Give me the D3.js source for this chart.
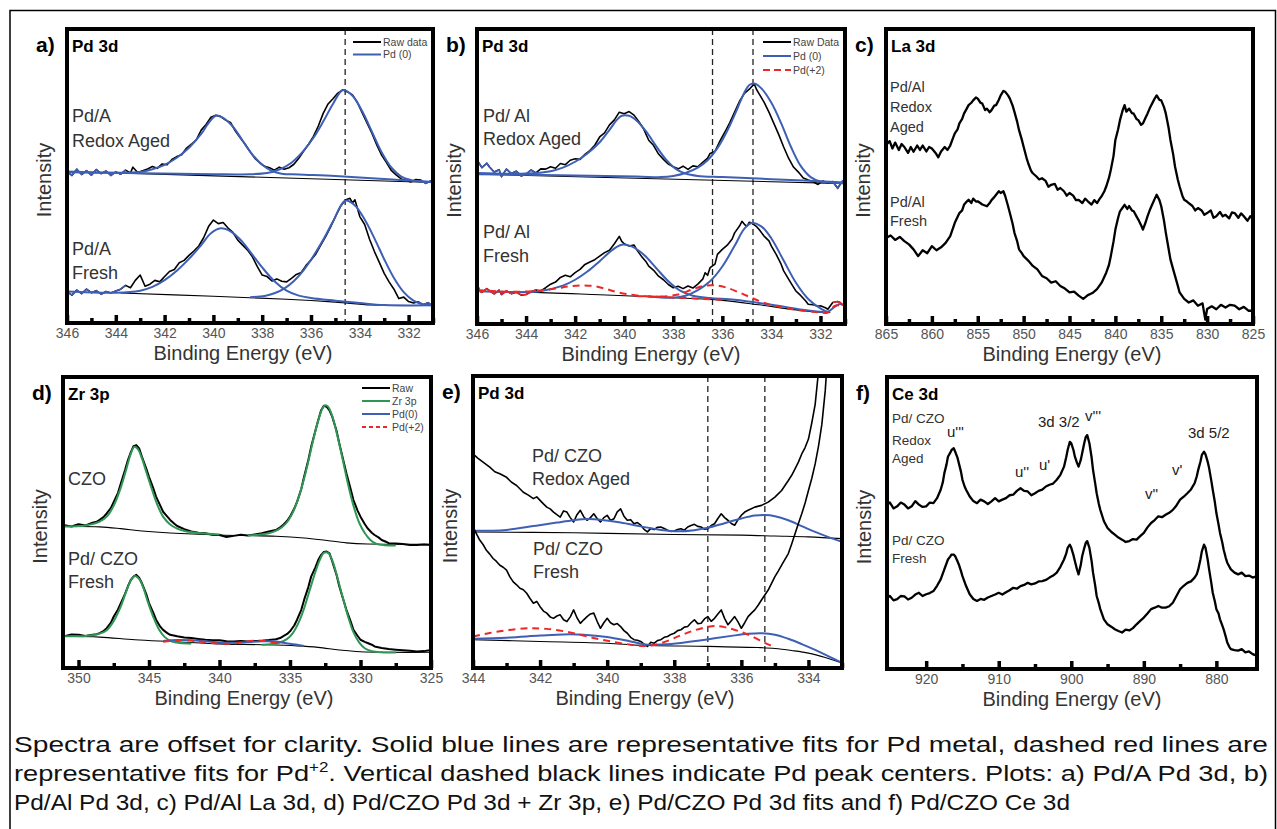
<!DOCTYPE html>
<html>
<head>
<meta charset="utf-8">
<script src="https://cdn.jsdelivr.net/npm/d3@7"></script>
<style>
body { margin: 0; background: #fff; }
svg text { font-family: Arial, "Liberation Sans", sans-serif; }
</style>
</head>
<body>
<svg id="fig" width="1277" height="829"></svg>
<script>
"use strict";

// ---- tick values ----
const aTicks = [346, 344, 342, 340, 338, 336, 334, 332];
const aMinor = [345, 343, 341, 339, 337, 335, 333, 331];
const cTicks = [865, 860, 855, 850, 845, 840, 835, 830, 825];
const cMinor = [862.5, 857.5, 852.5, 847.5, 842.5, 837.5, 832.5, 827.5];
const dTicks = [350, 345, 340, 335, 330, 325];
const dMinor = [347.5, 342.5, 337.5, 332.5, 327.5];
const eTicks = [344, 342, 340, 338, 336, 334];
const eMinor = [343, 341, 339, 337, 335, 333];
const fTicks = [920, 910, 900, 890, 880];
const fMinor = [915, 905, 895, 885];

// ---- peak centre markers (eV) ----
const aCentres = [334.6];
const bCentres = [336.4, 334.75];
const eCentres = [337.0, 335.3];

// ---- panel a : Pd/A Pd 3d  [binding energy, intensity] ----
const aAgedRaw = [[346,51.5],[345.8,50.2],[345.6,52.3],[345.4,50.5],[345.2,51.8],[345,50.3],[344.8,52.2],[344.6,50.8],[344.4,51.7],[344.2,50.2],[344,51.4],[343.8,50.6],[343.6,52],[343.4,51],[343.3,53],[343.1,51.2],[342.9,51.8],[342.7,52.4],[342.5,53.2],[342.3,52.6],[342.1,54.1],[341.9,53.8],[341.7,55.6],[341.5,56.6],[341.3,57.2],[341.1,59.5],[340.9,60.8],[340.7,62.3],[340.5,65.6],[340.3,67.5],[340.1,70],[339.9,70.7],[339.7,70.2],[339.5,69],[339.3,68.2],[339.1,65.3],[338.9,63],[338.7,60.8],[338.5,58.3],[338.3,56],[338.1,54.5],[337.9,53.3],[337.7,52.8],[337.5,52],[337.3,53],[337.1,52.3],[336.9,52.8],[336.7,54],[336.5,56],[336.3,58.5],[336.1,60.8],[335.9,63.5],[335.7,67],[335.5,71.3],[335.3,74.5],[335.1,76.3],[334.9,78.2],[334.7,79.3],[334.5,78.6],[334.3,77.6],[334.1,75],[333.9,71.5],[333.7,68],[333.5,64.5],[333.3,60.5],[333.1,57],[332.9,54.5],[332.7,51.8],[332.5,50.3],[332.3,49],[332.1,48.5],[331.9,48],[331.7,48.8],[331.5,48.6],[331.3,47.5],[331.1,48.3],[331,47]];
const aAgedFit1 = [[346,51.5],[344,51.1],[343,51.4],[342.5,52.3],[342,53.8],[341.5,56.2],[341,59.6],[340.5,64.3],[340.2,68],[339.9,70.5],[339.6,69.8],[339.2,66.8],[338.8,62],[338.4,57.3],[338,53.8],[337.6,51.7],[337.2,50.8],[336.5,50.5],[335,50],[333,49],[331,48]];
const aAgedFit2 = [[346,51.3],[340,50.6],[338.5,50.6],[337.8,51],[337.3,52.2],[336.8,54.5],[336.3,58.6],[335.9,63],[335.5,68.5],[335.1,74.5],[334.7,79.2],[334.3,77.3],[333.9,72],[333.5,65],[333.1,58],[332.7,52.8],[332.3,49.8],[331.9,48.6],[331.5,48.1],[331,47.9]];
const aAgedBase = [[343.3,50.9],[331,47.8]];
const aFreshRaw = [[346,10.7],[345.8,9.5],[345.6,11.2],[345.4,10],[345.2,11.5],[345,10.3],[344.8,11],[344.6,9.8],[344.4,10.7],[344.2,10.2],[344,10.9],[343.8,11.5],[343.6,12.8],[343.4,12],[343.2,14.5],[343,16.3],[342.8,12.5],[342.6,13.2],[342.4,14.5],[342.2,14],[342,15.8],[341.8,17.5],[341.6,18.2],[341.4,20.5],[341.2,21.3],[341,23],[340.8,24.5],[340.6,26.2],[340.4,29],[340.2,32.8],[340,35],[339.8,33.8],[339.6,34.2],[339.4,32.3],[339.2,30.8],[339,28.2],[338.8,26.5],[338.6,24.8],[338.4,22.5],[338.2,19.2],[338,16.3],[337.8,15.8],[337.6,14.3],[337.4,15],[337.2,14.2],[337,14],[336.8,15.2],[336.6,16.5],[336.4,17.2],[336.2,19.6],[336,21.4],[335.8,23.5],[335.6,26.5],[335.4,29.4],[335.2,32.6],[335,36.2],[334.8,39.5],[334.6,41.8],[334.4,42.4],[334.3,40.8],[334.2,41.9],[334,36.2],[333.8,33.5],[333.6,28.5],[333.4,24.3],[333.2,20.6],[333,16.9],[332.8,14],[332.6,11.5],[332.4,8.3],[332.2,8.8],[332,7.3],[331.8,6.8],[331.6,7.2],[331.4,6.2],[331.2,6.9],[331,5.6]];
const aFreshFit1 = [[346,10.7],[344,10.3],[343,11],[342.5,12.3],[342,14.6],[341.5,17.8],[341,21.8],[340.5,26.5],[340.1,30.5],[339.7,32.2],[339.3,31.2],[338.9,28.4],[338.5,24.3],[338,18.9],[337.5,14.2],[337,11],[336.5,9.3],[336,8.5],[335,7.6],[334,6.8],[333,6.1],[331,6]];
const aFreshFit2 = [[338.5,8.8],[337.9,9.2],[337.5,10.1],[337.1,11.7],[336.7,14.3],[336.3,18],[335.9,22.8],[335.5,28.3],[335.1,34.5],[334.6,41.6],[334.2,40],[333.8,35.2],[333.4,28.8],[333,21.7],[332.6,15.3],[332.2,10.5],[331.8,7.6],[331.4,6.3],[331,6]];
const aFreshBase = [[343.8,10.2],[340,9.1],[337,8.1],[335,7.1],[333.5,6.1],[331,6]];

// ---- panel b : Pd/Al Pd 3d ----
const bAgedRaw = [[346,55.6],[345.8,53],[345.6,54.5],[345.5,53.3],[345.3,51.5],[345.1,52.3],[345,50],[344.8,52.5],[344.6,51],[344.4,51.8],[344.2,50.2],[344,50.8],[343.8,52.2],[343.6,51.2],[343.4,52.6],[343.2,52.5],[343,53.3],[342.8,52.8],[342.6,54.4],[342.4,54],[342.2,55.5],[342,56],[341.8,55.8],[341.6,57.5],[341.4,58.8],[341.2,60.6],[341,63.4],[340.8,64.8],[340.6,67.5],[340.4,69.2],[340.2,71.8],[340,71.3],[339.8,72],[339.6,70.8],[339.4,68.6],[339.2,66],[339,62.3],[338.8,60.5],[338.6,57.6],[338.4,55.8],[338.2,54.2],[338,53.3],[337.8,52.6],[337.6,53.5],[337.4,52.4],[337.2,53.6],[337,53.3],[336.8,54.8],[336.6,56.2],[336.5,57.8],[336.3,58.5],[336.1,62],[335.9,65],[335.7,68.2],[335.5,71.8],[335.3,75.5],[335.1,78.2],[334.9,79.6],[334.7,81.4],[334.6,79.4],[334.5,78],[334.3,75.2],[334.1,71.8],[333.9,68],[333.7,64.2],[333.5,60],[333.3,56.2],[333.1,53.2],[332.9,51.5],[332.7,49.5],[332.5,48.8],[332.3,48.2],[332.1,47.3],[331.9,48.5],[331.7,47.7],[331.5,48.3],[331.3,46],[331.1,48.5],[331,47.7]];
const bAgedFit1 = [[346,51.2],[344,51],[343,51.8],[342.5,53],[342,55],[341.5,57.8],[341,61.6],[340.6,65.8],[340.3,69.2],[340.1,70.6],[339.8,70.6],[339.5,69],[339.1,65.2],[338.7,60.3],[338.3,55.8],[337.9,52.6],[337.5,51],[337,50.2],[336,49.8],[334,49.1],[331,48]];
const bAgedFit2 = [[346,50.8],[339.5,50],[338.5,49.8],[338,50.2],[337.5,51.2],[337,53],[336.6,55.5],[336.2,59.6],[335.8,65.5],[335.4,72.8],[335.1,78.5],[334.9,81],[334.7,81.5],[334.4,79.8],[334,75],[333.6,68],[333.2,60],[332.8,53.5],[332.4,49.8],[332,48.3],[331.5,47.9],[331,47.8]];
const bAgedBase = [[346,50.8],[331,47.6]];
const bFreshRaw = [[346,14],[345.9,11.2],[345.8,10.7],[345.6,12],[345.5,11.3],[345.3,10.2],[345.1,11.5],[345,10],[344.8,11.2],[344.6,10.3],[344.4,10.8],[344.2,9.8],[344,10],[343.8,10.9],[343.6,11.5],[343.4,11.2],[343.2,12.3],[343,13.5],[342.8,14.2],[342.6,15.8],[342.4,16.5],[342.2,16],[342,17.4],[341.8,18.5],[341.6,20.2],[341.4,21],[341.2,21.8],[341,23],[340.8,24.2],[340.6,25],[340.4,27.2],[340.2,29.7],[340.1,28],[340,27.2],[339.8,26.4],[339.6,26.8],[339.5,25.3],[339.3,23],[339.1,21],[339,19.6],[338.8,18.2],[338.6,16.2],[338.4,15],[338.2,13.4],[338,12.3],[337.8,12.8],[337.6,12],[337.4,12.9],[337.2,12.2],[337,13.5],[336.8,15.2],[336.7,17.4],[336.6,16.5],[336.5,19.1],[336.3,20.3],[336.2,23.6],[336,25.3],[335.8,26.7],[335.6,28.8],[335.5,30.9],[335.3,33.2],[335.2,34.8],[335.1,33.8],[335,33.1],[334.9,34.5],[334.8,34.2],[334.6,33],[334.5,32],[334.3,29.8],[334.1,28.2],[334,26.4],[333.8,23.5],[333.6,20.2],[333.5,18],[333.3,15.2],[333.1,12.5],[333,11.2],[332.8,9.6],[332.6,7.8],[332.5,6.7],[332.3,6.5],[332.1,6],[332,6.2],[331.8,5.5],[331.7,5],[331.5,7.3],[331.3,7.6],[331.2,7.3],[331.1,6.5],[331,6.2]];
const bFreshFit1 = [[346,11.2],[344.5,10.8],[343.5,11],[342.5,13],[342,15],[341.5,17.8],[341,21.3],[340.5,25],[340.1,26.9],[339.7,26.3],[339.2,23.5],[338.7,19],[338.2,14.5],[337.7,11.2],[337.2,9.6],[336.5,8.8],[335.5,8.2],[334,6.5],[332.5,4.6],[331.7,3.9]];
const bFreshFit2 = [[339,9.3],[338,8.9],[337.5,9.6],[337,11.5],[336.5,14.5],[336,19.5],[335.5,26.5],[335.1,32.3],[334.8,34.2],[334.4,33],[334,29],[333.5,21.5],[333,14],[332.5,8.5],[332,5.3],[331.7,4.2],[331.4,6],[331.2,6.8],[331,6.2]];
const bFreshPd2a = [[346,11.5],[344.5,10.9],[343.5,11.3],[342.8,12],[342.2,12.8],[341.7,13.1],[341.2,12.8],[340.7,11.8],[340.2,10.6],[339.5,9.7],[338.5,9.2],[337.5,8.8],[336,8.2]];
const bFreshPd2b = [[339.5,9.5],[338.5,9.3],[337.8,10],[337.2,11.8],[336.7,13],[336.3,13.1],[335.9,12.5],[335.4,11],[334.9,9.2],[334.4,7.5],[333.8,6],[333,4.8],[332.2,4.1],[331.7,3.9],[331.4,6.2],[331,6]];
const bFreshBase = [[346,11],[344,10.8],[341,9.9],[338,8.9],[336,8],[334.5,6.5],[333,4.8],[332,4],[331.6,3.9]];

// ---- panel c : Pd/Al La 3d ----
const cAgedRaw = [[865,60.7],[864.6,62],[864.3,59.5],[864,61.5],[863.6,59],[863.3,61],[863,60],[862.6,58],[862.3,60],[862,58.4],[861.6,60.5],[861.3,59],[861,60.5],[860.6,58.5],[860.3,60],[860,59.5],[859.6,58],[859.3,56.5],[859,58.5],[858.6,60],[858.3,59],[858,60.5],[857.7,63],[857.5,64.6],[857.2,66],[857,68],[856.7,69.5],[856.5,71.3],[856.2,73],[856,74.2],[855.7,75],[855.5,75.8],[855.2,76.8],[855,76.4],[854.7,75],[854.5,74.7],[854.2,72.5],[854,73],[853.7,71.8],[853.5,72.5],[853.2,74],[853,74.2],[852.7,76],[852.5,77.5],[852.2,79],[852,78.7],[851.7,77.5],[851.5,76.4],[851.2,74],[851,71.9],[850.7,68.5],[850.5,65.7],[850.2,62.5],[850,60.1],[849.7,56.5],[849.5,54.5],[849.2,52],[849,51.1],[848.6,50],[848.3,49],[848,49.4],[847.6,48.5],[847.3,46.5],[847,47.2],[846.6,47.5],[846.3,45.5],[846,46.1],[845.6,45],[845.3,43.5],[845,44.4],[844.6,43.5],[844.3,42],[844,42.1],[843.6,41],[843.3,42.5],[843,41.6],[842.6,40.5],[842.3,42],[842,41],[841.7,42.5],[841.5,43.3],[841.2,45],[841,46.6],[840.7,49.5],[840.5,52.2],[840.2,57],[840,62.4],[839.7,66],[839.5,69.1],[839.2,72.5],[839,74.2],[838.8,72],[838.5,73],[838.2,71.5],[838,71.3],[837.7,69.5],[837.5,69.1],[837.2,67.5],[837,68],[836.7,70],[836.5,71.3],[836.2,73.5],[836,74.7],[835.7,76.5],[835.5,77.5],[835.2,76],[835,75.8],[834.7,73.5],[834.5,71.3],[834.2,66.5],[834,62.4],[833.7,57.5],[833.5,53.4],[833.2,49],[833,46.6],[832.7,43.5],[832.5,42.1],[832.2,41.5],[832,41],[831.6,40],[831.3,38.5],[831,39.3],[830.6,38.5],[830.3,37],[830,37.6],[829.6,38.5],[829.3,36],[829,36.5],[828.6,38],[828.3,36.5],[828,37],[827.6,35.8],[827.3,37.8],[827,37.6],[826.6,36],[826.3,37.5],[826,36.5],[825.6,35],[825.3,36.5],[825,35.4]];
const cFreshRaw = [[865,29.2],[864.5,30],[864,28.5],[863.5,29.5],[863,28.1],[862.5,27],[862,25.3],[861.5,23],[861,25],[860.5,24],[860,26.4],[859.5,25],[859,26],[858.5,27.5],[858,29.8],[857.5,34.3],[857,37.6],[856.7,38.5],[856.5,40.4],[856.2,41.5],[856,42.1],[855.7,41],[855.5,42.5],[855.2,41.5],[855,41.6],[854.5,40.5],[854,39.9],[853.7,41],[853.5,42],[853.2,43],[853,43.8],[852.7,45],[852.5,44.4],[852.2,45],[852,43.3],[851.7,40],[851.5,37.6],[851.2,34],[851,30.9],[850.7,28],[850.5,25.3],[850.2,24],[850,23],[849.5,21.5],[849,19.7],[848.5,18.5],[848,16.3],[847.5,15.5],[847,14],[846.5,14.5],[846,12.9],[845.5,12],[845,10.7],[844.5,11],[844,9.6],[843.5,8.5],[843,9.8],[842.5,10.5],[842,11.8],[841.5,14],[841,17.4],[840.7,20],[840.5,23],[840.2,28],[840,32],[839.7,36],[839.5,38.2],[839.2,39.5],[839,40.4],[838.7,39],[838.5,40],[838.2,38.5],[838,38.2],[837.7,36.5],[837.5,35.4],[837.2,33.5],[837,32],[836.7,34.5],[836.5,36.5],[836.2,39],[836,40.4],[835.7,42.5],[835.5,43.8],[835.2,42],[835,39.9],[834.7,35],[834.5,30.9],[834.2,25.5],[834,21.9],[833.7,18.5],[833.5,16.3],[833.2,13],[833,10.7],[832.5,8.5],[832,7.3],[831.5,8],[831,6.2],[830.5,7],[830.2,1.5],[830,5.1],[829.5,6],[829,5],[828.5,6.5],[828,5.6],[827.5,6.5],[827,6.2],[826.5,5],[826,5.8],[825.5,4.5],[825,4.5]];

// ---- panel d : Pd/CZO Zr 3p ----
const dCzoRaw = [[351,49.1],[350.5,48.6],[350,49.4],[349.5,49],[349,49.9],[348.7,50.3],[348.5,50.9],[348.2,52],[348,53.1],[347.7,55],[347.5,57.1],[347.2,60.2],[347,63.4],[346.7,68],[346.5,71.4],[346.3,74],[346.1,76.2],[345.9,76.6],[345.7,75.5],[345.5,72.6],[345.2,68.6],[345,65.7],[344.7,61.8],[344.5,58.9],[344.2,55.8],[344,53.7],[343.7,52],[343.5,50.9],[343.2,49.6],[343,48.8],[342.5,47.7],[342,46.9],[341.5,46.5],[341,46.3],[340.5,45.8],[340,45.7],[339.5,45],[339,45.4],[338.5,45.8],[338,45.5],[337.5,45.9],[337,46.3],[336.5,46.9],[336,47.4],[335.7,48.3],[335.5,49.1],[335.2,50.6],[335,52],[334.7,54.8],[334.5,57.1],[334.2,61.5],[334,65.7],[333.7,71.5],[333.5,76],[333.2,81.5],[333,85.1],[332.8,88.5],[332.6,90.1],[332.4,89.8],[332.2,88.5],[332,86.3],[331.7,81.5],[331.5,77.1],[331.2,71],[331,66.9],[330.7,61.5],[330.5,57.7],[330.2,54],[330,52],[329.7,49.5],[329.5,48],[329.2,46.5],[329,45.7],[328.7,44.8],[328.5,44],[328.2,43.4],[328,42.9],[327.5,42.8],[327,42.6],[326.5,42.3],[326,42.3],[325.5,42.4],[325,42.3]];
const dCzoZr1 = [[351,48.6],[349.5,49],[348.5,50.3],[348,52],[347.5,55.8],[347,62],[346.6,68.5],[346.3,73.5],[346.05,76],[345.8,75.3],[345.5,72],[345.2,67.5],[344.8,61.5],[344.4,56],[344,52],[343.5,49.3],[343,47.9],[342.4,47],[341.5,46.4],[340,45.9]];
const dCzoZr2 = [[338,45.5],[336.5,46.3],[335.8,47.6],[335.3,49.6],[334.9,52.5],[334.5,57],[334.1,63.3],[333.7,71],[333.3,79.5],[333,85],[332.7,89.2],[332.5,90.3],[332.3,89.8],[332,86.5],[331.7,81],[331.3,72.5],[330.9,63.5],[330.5,55.8],[330.1,50],[329.7,46.4],[329.3,44],[328.9,42.7],[328.3,42.2],[327.5,42.1]];
const dCzoBase = [[351,48.6],[348.5,48.5],[347,47.9],[345.5,47.1],[343.5,46.4],[340,45.7],[336,45.3],[334,44.7],[332.5,43.9],[331,43],[329.5,42.6],[325,42.6]];
const dFreshRaw = [[351,10.9],[350.5,11.5],[350,11.4],[349.5,11],[349,11.4],[348.7,11.6],[348.5,12],[348.2,12.8],[348,13.7],[347.7,15.6],[347.5,17.7],[347.2,20.1],[347,22.3],[346.7,25.5],[346.5,28],[346.3,30.2],[346.1,31.4],[345.9,32],[345.7,31],[345.5,29.1],[345.2,25.5],[345,22.3],[344.7,19],[344.5,16.6],[344.2,14.2],[344,13.1],[343.7,12],[343.5,11.4],[343,10.9],[342.5,10.5],[342,10.3],[341.5,10],[341,9.7],[340.5,9.5],[340,9.5],[339.5,9.2],[339,9.1],[338.5,9.3],[338,9.1],[337.5,9.3],[337,9.4],[336.5,9.6],[336,9.9],[335.7,10.3],[335.5,10.9],[335.2,11.7],[335,12.6],[334.7,14.6],[334.5,16.6],[334.2,20],[334,23.4],[333.7,27.8],[333.5,31.4],[333.2,34.6],[333,37.1],[332.8,38.8],[332.6,39.9],[332.4,40],[332.2,39.4],[332,36.6],[331.7,32],[331.5,28],[331.2,23.2],[331,20],[330.7,16],[330.5,13.1],[330.2,11],[330,9.7],[329.7,9],[329.5,8.6],[329.2,8],[329,7.4],[328.5,6.9],[328,6.5],[327.5,6.3],[327,6.1],[326.5,5.9],[326,5.7],[325.5,5.8],[325,6.2]];
const dFreshZr1 = [[351,10.9],[349.5,11],[348.5,11.8],[348,13],[347.5,16.2],[347,21.2],[346.6,26.5],[346.3,30],[346,31.6],[345.7,30.6],[345.4,27.5],[345.1,23],[344.7,17.6],[344.3,13.3],[343.9,10.7],[343.4,9.2],[342.8,8.6],[342,8.4]];
const dFreshZr2 = [[337,8],[335.8,8.6],[335.2,10],[334.8,12],[334.4,15.5],[334,20.5],[333.6,26.8],[333.2,33],[332.9,37],[332.6,39.6],[332.3,39.6],[332,37],[331.7,32.2],[331.3,25],[330.9,18],[330.5,12.3],[330.1,8.8],[329.7,6.8],[329.2,5.8],[328.5,5.4],[327.5,5.3]];
const dFreshBase = [[351,10.9],[348.5,10.6],[346,9.7],[343.5,9.1],[340,8.3],[337,8],[334.5,7.6],[333,7.1],[331.5,6.2],[330,5.6],[328,5.4],[325,5.4]];
const dFreshPd0 = [[344,9.3],[343,9.6],[342,9.5],[341,9.2],[340,8.8],[339,8.7],[338,8.9],[337,9.2],[336,9.1],[335,8.3],[334,7.6]];
const dFreshPd2 = [[344,9],[343.2,9.4],[342.5,9.6],[341.8,9.3],[341,8.9],[340,8.4],[339,8.4],[338.3,8.9],[337.6,9.4],[337,9.4],[336.3,8.9],[335.5,8.3]];

// ---- panel e : Pd/CZO Pd 3d ----
const eAgedRaw = [[344.05,78.4],[344,73.3],[343.85,71.8],[343.7,70.5],[343.5,68.8],[343.35,67.2],[343.2,66.5],[343,65.3],[342.85,63.6],[342.7,62.5],[342.5,60.2],[342.35,59.2],[342.2,58],[342.1,58.6],[342,57.4],[341.9,56.2],[341.8,55.1],[341.7,54.5],[341.6,53.4],[341.5,52.5],[341.4,51.7],[341.3,53.8],[341.2,53.4],[341.1,51.5],[341,50],[340.9,52.5],[340.8,54],[340.7,51.8],[340.6,50.6],[340.5,51.5],[340.4,52.8],[340.3,51.2],[340.2,50],[340.1,51.5],[340,52.3],[339.9,50.5],[339.8,51.1],[339.7,53.5],[339.6,54.5],[339.5,52],[339.4,50.6],[339.3,50.8],[339.2,49.4],[339.1,49.8],[339,48.9],[338.9,47.5],[338.8,46.6],[338.7,47.8],[338.6,47.4],[338.5,48.2],[338.4,48.3],[338.3,47.8],[338.2,47.2],[338.1,46.8],[338,46.9],[337.9,47.4],[337.8,47.7],[337.7,47.2],[337.6,48.3],[337.5,48.8],[337.4,49.2],[337.3,48.5],[337.2,48.3],[337.1,47.5],[337,47.7],[336.9,48.8],[336.8,49.4],[336.7,51.2],[336.6,52.8],[336.5,51.5],[336.4,50.6],[336.3,49.5],[336.2,48.9],[336.1,50.8],[336,52.3],[335.9,53.4],[335.8,54],[335.6,55.1],[335.4,55.7],[335.2,56.8],[335,58.5],[334.8,60.8],[334.6,64.2],[334.5,66],[334.4,68.2],[334.3,70.5],[334.2,73.3],[334.1,75.5],[334,78.4],[333.9,84],[333.8,90.3],[333.72,99.4],[333.7,102]];
const eAgedFit = [[344,47],[343,47.3],[342.2,48.6],[341.5,49.8],[341,50.6],[340.6,51],[340.2,50.8],[339.6,49.8],[339,48.5],[338.4,47.3],[337.9,46.8],[337.4,47.2],[337,48],[336.5,49.6],[336,51.2],[335.6,52.2],[335.3,52.4],[335,52],[334.6,50.6],[334.2,48.6],[333.8,46.6],[333.4,44.8],[333,43.2]];
const eAgedBase = [[344,46.6],[341,46.3],[338,45.7],[336,45.5],[335,45.2],[334,44.9],[333,44.3]];
const eFreshRaw = [[344,48.3],[343.9,46],[343.8,43.8],[343.7,42.3],[343.6,40.3],[343.5,39],[343.4,37.5],[343.3,36.5],[343.2,35.2],[343.1,34.5],[343,33.5],[342.9,31.2],[342.8,29.5],[342.7,28.5],[342.6,27.3],[342.5,26.8],[342.4,25.6],[342.3,23.8],[342.2,22.2],[342.1,22.8],[342,21],[341.9,19.5],[341.8,18.8],[341.7,17.5],[341.6,17],[341.5,17.8],[341.4,18.2],[341.3,16.5],[341.2,15.9],[341.1,17.5],[341,19.9],[340.9,17.2],[340.8,15.3],[340.7,16.5],[340.6,17.6],[340.5,18.5],[340.4,18.8],[340.3,16],[340.2,13.6],[340.1,15.5],[340,17],[339.9,15.5],[339.8,14.8],[339.7,15.2],[339.6,14.2],[339.5,12.8],[339.4,11.9],[339.3,10.5],[339.2,9.7],[339.1,9.5],[339,9.1],[338.9,8.2],[338.8,7.4],[338.7,8.8],[338.6,8.5],[338.5,9.4],[338.4,9.7],[338.3,10.5],[338.2,10.8],[338.1,11.5],[338,11.9],[337.9,12.8],[337.8,13.1],[337.7,14],[337.6,14.2],[337.5,15.5],[337.4,16.5],[337.3,15.2],[337.2,15.3],[337.1,16.8],[337,17.6],[336.9,16],[336.8,17],[336.7,18.5],[336.6,19.9],[336.5,17],[336.4,14.8],[336.3,16.2],[336.2,17.6],[336.1,15.8],[336,13.6],[335.9,15.5],[335.8,17.6],[335.7,18.8],[335.6,19.9],[335.5,21.5],[335.4,23.3],[335.3,25],[335.2,26.7],[335.1,29],[335,31.3],[334.9,33.2],[334.8,35.2],[334.7,37.2],[334.6,39.2],[334.5,42.5],[334.4,46],[334.3,49.5],[334.2,52.8],[334.1,56.5],[334,60.8],[333.9,65],[333.8,69.9],[333.7,76],[333.6,83.5],[333.5,94.9],[333.47,100],[333.45,103]];
const eFreshFit = [[344,10],[343,10.4],[342,11.1],[341.3,11.5],[340.7,11.4],[340,10.6],[339.3,9.1],[338.8,8],[338.3,8.1],[337.8,8.6],[337.3,9.3],[336.8,10.2],[336.3,11],[335.8,11.7],[335.4,11.9],[335,11.4],[334.6,10],[334.2,8.2],[333.8,6.2],[333.4,4],[333,1.8]];
const eFreshPd2 = [[344,10.8],[343.5,12],[343,12.9],[342.5,13.5],[342.2,13.6],[341.8,13.4],[341.3,12.6],[340.8,11.4],[340.3,10],[339.8,8.9],[339.3,8],[338.9,7.5],[338.6,7.9],[338.2,9.3],[337.8,11.2],[337.4,12.9],[337,14.1],[336.8,14.4],[336.5,14],[336.1,12.7],[335.7,10.9],[335.3,8.6],[335.1,7.6]];
const eFreshBase = [[344,9.7],[342,9.1],[340,8.5],[339,7.8],[337,7.4],[335.5,7],[335,6.7],[334.5,6],[334,5.1],[333.5,3.6],[333,1.7]];

// ---- panel f : Pd/CZO Ce 3d ----
const fAgedRaw = [[925.4,56.3],[925,57],[924.5,55],[924,55.7],[923.5,57],[923,56.3],[922.5,55],[922,55.7],[921.5,57.5],[921,56.3],[920.5,55.5],[920,55.7],[919.5,57],[919,56.8],[918.5,58.5],[918,61.4],[917.7,64],[917.5,67],[917.2,70],[917,72.7],[916.7,74],[916.5,75],[916.2,75.6],[916,74.4],[915.7,72.5],[915.5,70.5],[915.2,67.5],[915,64.8],[914.7,62.5],[914.5,61.4],[914,59.1],[913.5,57.5],[913,56.8],[912.5,58],[912,57.4],[911.5,56.5],[911,57.4],[910.5,58.5],[910,57.4],[909.5,58],[909,58.5],[908.5,59.5],[908,59.7],[907.5,61],[907,61.9],[906.5,61],[906,60.8],[905.5,59.5],[905,60.2],[904.5,61],[904,61.4],[903.5,62.5],[903,63.1],[902.5,63.5],[902,64.8],[901.5,66.5],[901,69.3],[900.7,72.5],[900.5,75],[900.2,77.8],[900,77.3],[899.7,75],[899.5,72.7],[899.2,70.5],[899,69.3],[898.7,71.5],[898.5,73.9],[898.2,77.5],[898,79.5],[897.8,80.1],[897.5,77.3],[897.2,72.5],[897,68.2],[896.7,63.5],[896.5,60.2],[896.2,56.5],[896,54.5],[895.5,50.6],[895,48.3],[894.5,47],[894,46],[893.5,45],[893,44.3],[892.5,43.5],[892,43.8],[891.5,44.5],[891,44.3],[890.5,45.5],[890,46.6],[889.5,48.5],[889,50],[888.5,51],[888,52.3],[887.5,52],[887,52.8],[886.5,53.5],[886,54.5],[885.5,56],[885,58],[884.5,59],[884,60.2],[883.5,61.5],[883,63.6],[882.7,66],[882.5,68.2],[882.2,71],[882,73.3],[881.7,74.4],[881.5,73.5],[881.2,71],[881,68.8],[880.7,64.5],[880.5,61.4],[880.2,57],[880,53.4],[879.7,49.5],[879.5,46.6],[879.2,43.5],[879,40.9],[878.7,38],[878.5,36.4],[878.2,35],[878,34.1],[877.5,33],[877,32.4],[876.5,33],[876,31.8],[875.5,32],[875,31.3],[874.4,31.8]];
const fFreshRaw = [[925.4,24.4],[925,25],[924.5,23.5],[924,23.9],[923.5,25],[923,24.9],[922.5,23.8],[922,24.4],[921.5,25.5],[921,26.1],[920.5,25],[920,25.6],[919.5,26],[919,26.7],[918.5,28.5],[918,30.7],[917.5,34.1],[917,37.5],[916.7,38.5],[916.5,39.2],[916.2,39.2],[916,38.6],[915.7,37],[915.5,35.8],[915.2,33.5],[915,31.8],[914.5,28.4],[914,25.6],[913.5,24],[913,23.3],[912.5,24],[912,23.7],[911.5,24.5],[911,25],[910.5,25.5],[910,26.1],[909.5,25.5],[909,26.3],[908.5,27],[908,27.8],[907.5,27.5],[907,28.4],[906.5,28.8],[906,29.5],[905.5,29],[905,29.3],[904.5,30],[904,30.1],[903.5,30.5],[903,31.3],[902.5,32],[902,33],[901.5,35],[901,37.5],[900.7,39.5],[900.5,41.5],[900.2,42.6],[900,41.5],[899.7,39],[899.5,36.9],[899.2,34],[899,32.4],[898.7,35.5],[898.5,38.6],[898.2,41.5],[898,43.2],[897.8,43.8],[897.5,41.5],[897.2,37],[897,33],[896.7,28.5],[896.5,25],[896.2,22.5],[896,20.5],[895.5,17],[895,15.3],[894.5,14.5],[894,13.6],[893.5,13],[893,12.5],[892.5,13.5],[892,13.2],[891.5,14],[891,15.3],[890.5,16.5],[890,17.6],[889.5,19],[889,20.5],[888.5,21],[888,21.6],[887.5,21],[887,21],[886.5,21.5],[886,22.7],[885.5,25],[885,27.3],[884.5,28.5],[884,29.5],[883.5,30],[883,31.3],[882.7,32.5],[882.5,34.1],[882.2,37.5],[882,40.3],[881.7,42.6],[881.5,41.5],[881.2,37.5],[881,34.1],[880.7,29.5],[880.5,26.1],[880.2,23],[880,20.5],[879.7,19],[879.5,17],[879.2,15],[879,13.6],[878.7,11],[878.5,9.1],[878.2,7.5],[878,6.8],[877.5,6.5],[877,6.3],[876.5,6.8],[876,5.7],[875.5,6],[875,5.1],[874.4,4.5]];

const captionLines = [
  "Spectra are offset for clarity.  Solid blue lines are representative fits for Pd metal, dashed red lines are",
  "representative fits for Pd",
  "Pd/Al Pd 3d, c) Pd/Al La 3d, d) Pd/CZO Pd 3d + Zr 3p, e) Pd/CZO Pd 3d fits and f) Pd/CZO Ce 3d"
];
const captionTail = ". Vertical dashed black lines indicate Pd peak centers.  Plots:  a) Pd/A Pd 3d, b)";

const BLUE = '#3e5fb6', GREEN = '#2f9655', RED = '#ee2626', BLACK = '#000';

function raw(data, width) { return {data, color: BLACK, width: width || 1.6, kind: 'raw'}; }
function fit(data, color) { return {data, color, width: 2, kind: 'fit'}; }
function base(data) { return {data, color: BLACK, width: 1.1, kind: 'fit'}; }
function dashed(data) { return {data, color: RED, width: 2, kind: 'fit', dash: '7,5'}; }

const panels = [
  {box: [67, 29, 433, 323], domain: [346, 331], ticks: aTicks, minor: aMinor, letter: 'a)', title: 'Pd 3d', xLabel: 243,
   centres: aCentres, size: 18,
   texts: [['Pd/A', 72, 122], ['Redox Aged', 72, 147], ['Pd/A', 72, 255], ['Fresh', 72, 279]],
   legend: {x: 353, y: 42, dy: 12.5, items: [['Raw data', BLACK], ['Pd (0)', BLUE]]},
   series: [raw(aAgedRaw), base(aAgedBase), fit(aAgedFit1, BLUE), fit(aAgedFit2, BLUE),
            raw(aFreshRaw), base(aFreshBase), fit(aFreshFit1, BLUE), fit(aFreshFit2, BLUE)],
   ends: [[aAgedRaw, BLUE], [aFreshRaw, BLUE]]},
  {box: [477, 29, 845, 324], domain: [346, 331], ticks: aTicks, minor: aMinor, letter: 'b)', title: 'Pd 3d', xLabel: 651,
   centres: bCentres, size: 18,
   texts: [['Pd/ Al', 483, 122], ['Redox Aged', 483, 145], ['Pd/ Al', 483, 238], ['Fresh', 483, 262]],
   legend: {x: 763, y: 42, dy: 14, items: [['Raw Data', BLACK], ['Pd (0)', BLUE], ['Pd(+2)', RED, '7,4']]},
   series: [raw(bAgedRaw), base(bAgedBase), fit(bAgedFit1, BLUE), fit(bAgedFit2, BLUE),
            raw(bFreshRaw), base(bFreshBase), fit(bFreshFit1, BLUE), fit(bFreshFit2, BLUE),
            dashed(bFreshPd2a), dashed(bFreshPd2b)],
   ends: [[bAgedRaw, BLUE], [bFreshRaw, RED]]},
  {box: [886, 29, 1253, 324], domain: [865, 825], ticks: cTicks, minor: cMinor, letter: 'c)', title: 'La 3d', xLabel: 1072,
   centres: [], size: 14.5,
   texts: [['Pd/Al', 890, 92], ['Redox', 890, 112], ['Aged', 890, 132], ['Pd/Al', 890, 207], ['Fresh', 890, 226]],
   series: [raw(cAgedRaw, 2.3), raw(cFreshRaw, 2.3)]},
  {box: [63, 377, 431, 668], domain: [351.1, 325], ticks: dTicks, minor: dMinor, letter: 'd)', title: 'Zr 3p', xLabel: 244,
   centres: [], size: 18,
   texts: [['CZO', 68, 485], ['Pd/ CZO', 68, 565], ['Fresh', 68, 588]],
   legend: {x: 362, y: 388, dy: 13, items: [['Raw', BLACK], ['Zr 3p', GREEN], ['Pd(0)', BLUE], ['Pd(+2)', RED, '4,3']]},
   series: [raw(dCzoRaw, 2), base(dCzoBase), fit(dCzoZr1, GREEN), fit(dCzoZr2, GREEN),
            raw(dFreshRaw, 2), base(dFreshBase), fit(dFreshZr1, GREEN), fit(dFreshZr2, GREEN),
            fit(dFreshPd0, BLUE), dashed(dFreshPd2)]},
  {box: [473, 376, 842, 668], domain: [344, 333], ticks: eTicks, minor: eMinor, letter: 'e)', title: 'Pd 3d', xLabel: 645,
   centres: eCentres, size: 18,
   texts: [['Pd/ CZO', 532, 462], ['Redox Aged', 532, 485], ['Pd/ CZO', 533, 555], ['Fresh', 533, 578]],
   series: [raw(eAgedRaw), base(eAgedBase), fit(eAgedFit, BLUE),
            raw(eFreshRaw), base(eFreshBase), fit(eFreshFit, BLUE), dashed(eFreshPd2)]},
  {box: [887, 377, 1257, 669], domain: [925.4, 874.4], ticks: fTicks, minor: fMinor, letter: 'f)', title: 'Ce 3d', xLabel: 1072,
   centres: [], size: 13.5,
   texts: [['Pd/ CZO', 892, 423], ['Redox', 892, 445], ['Aged', 892, 463], ['Pd/ CZO', 892, 545], ['Fresh', 892, 563]],
   notes: [["u'''", 947, 437], ['3d 3/2', 1038, 427], ["v'''", 1085, 421], ["u''", 1015, 477], ["u'", 1039, 470],
           ["v''", 1145, 499], ["v'", 1172, 475], ['3d 5/2', 1188, 438]],
   series: [raw(fAgedRaw, 2.3), raw(fFreshRaw, 2.3)]}
];

const svg = d3.select('#fig');

svg.append('rect')
  .attr('x', 10).attr('y', 10.5)
  .attr('width', 1265.5).attr('height', 822)
  .attr('fill', 'none')
  .attr('stroke', '#000')
  .attr('stroke-width', 1.5);

function drawPanel(p, i)
{
  let [left, top, right, bottom] = p.box;
  let x = d3.scaleLinear().domain(p.domain).range([left, right]);
  let y = d3.scaleLinear().domain([0, 100]).range([bottom, top]);
  let g = svg.append('g');

  g.append('clipPath')
    .attr('id', 'clip' + i)
    .append('rect')
    .attr('x', left).attr('y', top)
    .attr('width', right - left).attr('height', bottom - top);

  let plot = g.append('g').attr('clip-path', `url(#clip${i})`);

  p.centres.forEach(c => plot.append('line')
    .attr('x1', x(c)).attr('x2', x(c))
    .attr('y1', top).attr('y2', bottom)
    .attr('stroke', '#222')
    .attr('stroke-width', 1.3)
    .attr('stroke-dasharray', '6,4'));

  let rawLine = d3.line().x(d => x(d[0])).y(d => y(d[1]));
  let fitLine = d3.line().x(d => x(d[0])).y(d => y(d[1])).curve(d3.curveCatmullRom.alpha(0.5));

  p.series.forEach(s => plot.append('path')
    .datum(s.data)
    .attr('d', s.kind === 'raw' ? rawLine : fitLine)
    .attr('fill', 'none')
    .attr('stroke', s.color)
    .attr('stroke-width', s.width)
    .attr('stroke-linejoin', 'round')
    .attr('stroke-dasharray', s.dash || null));

  (p.ends || []).forEach(([data, color]) =>
  {
    [data.filter(d => d[0] >= 343.6), data.filter(d => d[0] <= 331.6)].forEach(part => plot.append('path')
      .datum(part)
      .attr('d', rawLine)
      .attr('fill', 'none')
      .attr('stroke', color)
      .attr('stroke-width', 1.5));
  });

  g.append('rect')
    .attr('x', left).attr('y', top)
    .attr('width', right - left).attr('height', bottom - top)
    .attr('fill', 'none')
    .attr('stroke', '#000')
    .attr('stroke-width', 4);

  let minorAxis = g.append('g')
    .attr('transform', `translate(0,${bottom})`)
    .call(d3.axisBottom(x).tickValues(p.minor).tickSize(-5).tickFormat(''));
  let majorAxis = g.append('g')
    .attr('transform', `translate(0,${bottom})`)
    .call(d3.axisBottom(x).tickValues(p.ticks).tickSize(-8).tickPadding(5).tickFormat(d3.format('d')));

  [minorAxis, majorAxis].forEach(a =>
  {
    a.select('.domain').remove();
    a.selectAll('.tick line').attr('stroke', '#000').attr('stroke-width', 3.5);
  });
  majorAxis.selectAll('.tick text')
    .attr('fill', '#555')
    .style('font-size', '14px');

  g.append('text')
    .attr('x', p.xLabel).attr('y', bottom + 37)
    .attr('text-anchor', 'middle')
    .attr('fill', '#333')
    .style('font-size', '20px')
    .text('Binding Energy (eV)');

  g.append('text')
    .attr('transform', `translate(${left - 16},${(top + bottom) / 2 + 4}) rotate(-90)`)
    .attr('text-anchor', 'middle')
    .attr('fill', '#333')
    .style('font-size', '20px')
    .text('Intensity');

  g.append('text')
    .attr('x', left - 31).attr('y', top + 23)
    .style('font-size', '21px')
    .style('font-weight', 'bold')
    .text(p.letter);

  g.append('text')
    .attr('x', left + 5).attr('y', top + 23)
    .style('font-size', '17px')
    .style('font-weight', 'bold')
    .text(p.title);

  p.texts.forEach(([t, tx, ty]) => g.append('text')
    .attr('x', tx).attr('y', ty)
    .attr('fill', '#333')
    .style('font-size', p.size + 'px')
    .text(t));

  (p.notes || []).forEach(([t, tx, ty]) => g.append('text')
    .attr('x', tx).attr('y', ty)
    .attr('fill', '#222')
    .style('font-size', '15px')
    .text(t));

  if (p.legend)
  {
    let L = p.legend;
    L.items.forEach(([label, color, dash], k) =>
    {
      let ly = L.y + k * L.dy;
      g.append('line')
        .attr('x1', L.x).attr('x2', L.x + 28)
        .attr('y1', ly).attr('y2', ly)
        .attr('stroke', color)
        .attr('stroke-width', 2)
        .attr('stroke-dasharray', dash || null);
      g.append('text')
        .attr('x', L.x + 30).attr('y', ly)
        .attr('dy', '0.35em')
        .attr('fill', '#444')
        .style('font-size', '10.5px')
        .text(label);
    });
  }
}

panels.forEach(drawPanel);

// caption, squeezed to the reference's narrow face
let cap = svg.append('g').style('font-size', '22.5px').attr('fill', '#111');

cap.append('text')
  .attr('x', 14).attr('y', 752)
  .attr('textLength', 1254)
  .attr('lengthAdjust', 'spacingAndGlyphs')
  .text(captionLines[0]);

let line2 = cap.append('text')
  .attr('x', 14).attr('y', 781)
  .attr('textLength', 1254)
  .attr('lengthAdjust', 'spacingAndGlyphs');
line2.append('tspan').text(captionLines[1]);
line2.append('tspan')
  .attr('dy', -9)
  .style('font-size', '14px')
  .text('+2');
line2.append('tspan')
  .attr('dy', 9)
  .text(captionTail);

cap.append('text')
  .attr('x', 14).attr('y', 810)
  .attr('textLength', 1056)
  .attr('lengthAdjust', 'spacingAndGlyphs')
  .text(captionLines[2]);
</script>
</body>
</html>
